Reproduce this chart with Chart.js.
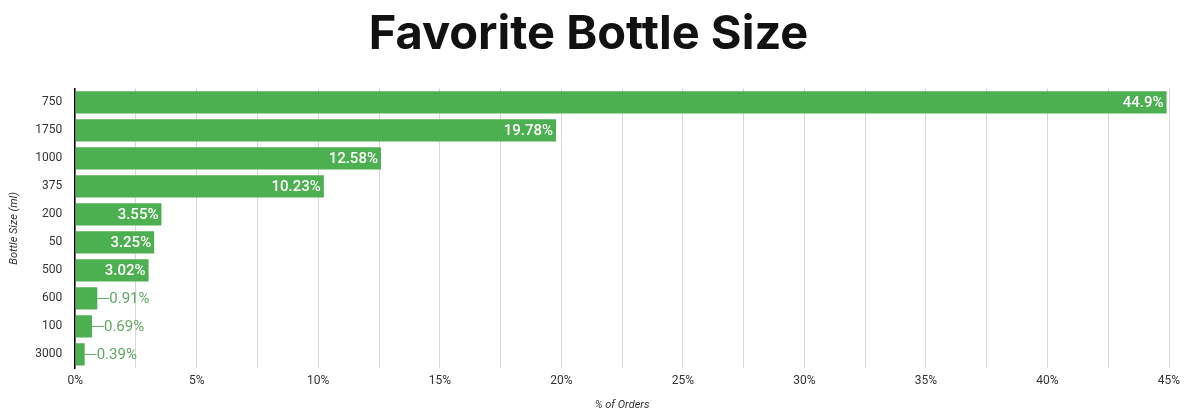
<!DOCTYPE html>
<html>
<head>
<meta charset="utf-8">
<script src="https://cdn.jsdelivr.net/npm/chart.js@4"></script>
<style>
  html, body { margin: 0; padding: 0; background: #fff; }
  #wrap { width: 1187px; height: 416px; }
</style>
</head>
<body>
<div id="wrap"><canvas id="bottleChart"></canvas></div>
<script>
// ================= DATA =================

const sizes = ["750", "1750", "1000", "375", "200", "50", "500", "600", "100", "3000"];
const shares = [44.9, 19.78, 12.58, 10.23, 3.55, 3.25, 3.02, 0.91, 0.69, 0.39];
const shareLabels = ["44.9%", "19.78%", "12.58%", "10.23%", "3.55%", "3.25%", "3.02%", "0.91%", "0.69%", "0.39%"];

const BAR_GREEN = "#4caf50";
const OUT_GREEN = "#5fa862";

// ================= VALUE LABELS =================

const valueLabels = {
  id: "valueLabels",
  afterDatasetsDraw(chart) {
    const ctx = chart.ctx;
    const meta = chart.getDatasetMeta(0);
    ctx.save();
    ctx.textBaseline = "middle";
    meta.data.forEach((bar, i) => {
      const text = shareLabels[i];
      const inside = shares[i] >= 2;
      if (inside) {
        ctx.font = "500 15px Roboto";
        ctx.fillStyle = "#ffffff";
        ctx.textAlign = "right";
        ctx.fillText(text, bar.x - 3, bar.y + 1);
      } else {
        ctx.strokeStyle = OUT_GREEN;
        ctx.lineWidth = 1;
        ctx.beginPath();
        ctx.moveTo(bar.x, bar.y);
        ctx.lineTo(bar.x + 12, bar.y);
        ctx.stroke();
        ctx.font = "15px Roboto";
        ctx.fillStyle = OUT_GREEN;
        ctx.textAlign = "left";
        ctx.fillText(text, bar.x + 12, bar.y + 1);
      }
    });
    ctx.restore();
  }
};

// ================= CHART =================

new Chart(document.getElementById("bottleChart"), {
  type: "bar",
  data: {
    labels: sizes,
    datasets: [{
      data: shares,
      backgroundColor: BAR_GREEN,
      barPercentage: 0.8,
      categoryPercentage: 1.0
    }]
  },
  options: {
    indexAxis: "y",
    responsive: true,
    maintainAspectRatio: false,
    animation: false,
    layout: { padding: { left: 8, right: 18, top: 0, bottom: 4 } },
    plugins: {
      legend: { display: false },
      tooltip: { enabled: false },
      title: {
        display: true,
        text: "Favorite Bottle Size",
        color: "#111",
        font: { family: "Inter", size: 47, weight: "bold" },
        padding: { top: 7, bottom: 25 }
      }
    },
    scales: {
      x: {
        min: 0,
        max: 45,
        ticks: {
          stepSize: 2.5,
          autoSkip: false,
          maxRotation: 0,
          padding: 5,
          color: "#333",
          font: { family: "Roboto", size: 12 },
          callback: v => (v % 5 === 0 ? v + "%" : "")
        },
        grid: { color: "#d6d6d6", drawTicks: false },
        border: { display: false },
        title: {
          display: true,
          text: "% of Orders",
          color: "#333",
          font: { family: "Roboto", size: 11, style: "italic" },
          padding: { top: 6, bottom: 0 }
        }
      },
      y: {
        ticks: {
          color: "#333",
          font: { family: "Roboto", size: 12 },
          padding: 13
        },
        grid: { display: false, drawTicks: false },
        border: { display: true, color: "#000", width: 1.5 },
        title: {
          display: true,
          text: "Bottle Size (ml)",
          color: "#333",
          font: { family: "Roboto", size: 11, style: "italic" },
          padding: { top: 0, bottom: 1 }
        }
      }
    }
  },
  plugins: [valueLabels]
});
</script>
</body>
</html>
